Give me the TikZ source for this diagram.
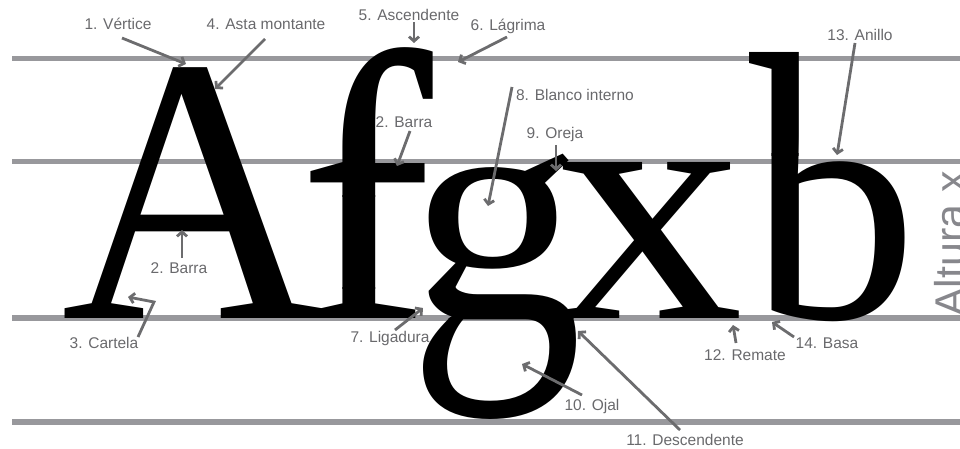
\documentclass[tikz,border=0pt]{standalone}
\usepackage{fontspec}
\setmainfont{Liberation Sans}
\newfontfamily\bigserif{Liberation Serif}
\usetikzlibrary{arrows.meta}
\definecolor{guide}{RGB}{152,152,156}
\definecolor{labelgray}{RGB}{105,105,108}
\definecolor{arrowgray}{RGB}{108,108,110}
\definecolor{sidegray}{RGB}{135,135,140}
% #1 name, #2 x, #3 font size, #4 xscale, #5 glyph, #6 source low, #7 target low, #8 yscale
\newcommand{\letterpiece}[8]{%
  \node[glyph] (#1) at (#2,318) {\fontsize{#3}{#3}\bigserif\selectfont\raisebox{#7pt}{\scalebox{#4}[#8]{\raisebox{-#6pt}{#5}}}};}
\begin{document}
\begin{tikzpicture}[x=1pt,y=-1pt,
  guideline/.style={draw=guide,line width=5.5pt},
  lbl/.style={text=labelgray,font=\fontsize{15.5}{16}\selectfont,inner sep=0pt},
  pointer/.style={draw=arrowgray,line width=2.8pt,line join=miter,-{Straight Barb[length=4.5pt,width=10pt]}},
  glyph/.style={inner sep=0pt,anchor=base west,text=black}]
\useasboundingbox (0,0) rectangle (960,449);
% guide lines
\coordinate (g1a) at (12,58.5);  \coordinate (g1b) at (960,58.5);
\coordinate (g2a) at (12,161.5); \coordinate (g2b) at (960,161.5);
\coordinate (g3a) at (12,318);   \coordinate (g3b) at (960,318);
\coordinate (g4a) at (12,422);   \coordinate (g4b) at (960,422);
\draw[guideline] (g1a) -- (g1b);
\draw[guideline] (g2a) -- (g2b);
\draw[guideline] (g3a) -- (g3b);
\draw[guideline] (g4a) -- (g4b);
% letter A
\node[glyph] (lA) at (61.5,318) {\fontsize{380}{380}\bigserif\selectfont\scalebox{0.96}[1]{A}};
% letter f in three pieces
\begin{scope}\clip (285,287.4) rectangle (480,340);
  \letterpiece{lf1}{298}{385}{1.05}{f}{0}{0}{1}\end{scope}
\begin{scope}\clip (285,195.4) rectangle (480,288.6);
  \letterpiece{lf2}{298}{385}{1.05}{f}{30}{30}{0.767}\end{scope}
\begin{scope}\clip (285,0) rectangle (480,196.6);
  \letterpiece{lf3}{298}{385}{1.05}{f}{150}{122}{1.228}\end{scope}
% letter g in two pieces
\begin{scope}\clip (390,0) rectangle (610,318.6);
  \letterpiece{lg1}{408}{360}{0.97}{g}{0}{0}{0.89}\end{scope}
\begin{scope}\clip (390,317.4) rectangle (610,449);
  \letterpiece{lg2}{408}{360}{0.97}{g}{0}{0}{1.3}\end{scope}
% letter x
\node[glyph] (lx) at (553.5,318) {\fontsize{340}{340}\bigserif\selectfont\scalebox{1.12}[1]{x}};
% letter b in two pieces
\begin{scope}\clip (730,154) rectangle (920,345);
  \letterpiece{lb1}{749}{387}{0.87}{b}{0}{0}{0.86}\end{scope}
\begin{scope}\clip (730,0) rectangle (920,155.2);
  \letterpiece{lb2}{749}{387}{0.87}{b}{190}{163.4}{1.30}\end{scope}
% side label
\node[rotate=90,anchor=base west,inner sep=0pt,text=sidegray,font=\fontsize{43}{43}\selectfont] (alt) at (965,317) {Altura x};
% labels
\node[lbl] (t1) at (118,24) {1. Vértice};
\node[lbl] (t4) at (266,24) {4. Asta montante};
\node[lbl] (t5) at (409,15) {5. Ascendente};
\node[lbl] (t6) at (508,26) {6. Lágrima};
\node[lbl] (t13) at (860,35) {13. Anillo};
\node[lbl] (t8) at (575,95) {8. Blanco interno};
\node[lbl] (t2f) at (404,122) {2. Barra};
\node[lbl] (t9) at (555,134) {9. Oreja};
\node[lbl] (t2a) at (179,268) {2. Barra};
\node[lbl] (t3) at (104,343) {3. Cartela};
\node[lbl] (t7) at (390,338) {7. Ligadura};
\node[lbl] (t10) at (592,406) {10. Ojal};
\node[lbl] (t11) at (685,440) {11. Descendente};
\node[lbl] (t12) at (745,355) {12. Remate};
\node[lbl] (t14) at (827,343) {14. Basa};
% arrow ends
\coordinate (a1) at (122,38);  \coordinate (b1) at (186,64);
\coordinate (a4) at (265,39);  \coordinate (b4) at (215,89);
\coordinate (a5) at (414,22);  \coordinate (b5) at (414,43);
\coordinate (a6) at (507,37);  \coordinate (b6) at (458,62);
\coordinate (a13) at (855,43); \coordinate (b13) at (837,155);
\coordinate (a8) at (512,87);  \coordinate (b8) at (488,206);
\coordinate (a2f) at (410,131); \coordinate (b2f) at (397,166);
\coordinate (a9) at (556,145); \coordinate (b9) at (556,171);
\coordinate (a2a) at (182,258); \coordinate (b2a) at (182,230);
\coordinate (a3) at (138,337); \coordinate (m3) at (154,302); \coordinate (b3) at (128,297);
\coordinate (a7) at (395,330); \coordinate (b7) at (423,308);
\coordinate (a10) at (582,395); \coordinate (b10) at (522,364);
\coordinate (a11) at (680,430); \coordinate (b11) at (578,331);
\coordinate (a12) at (736,343); \coordinate (b12) at (733,325);
\coordinate (a14) at (794,337); \coordinate (b14) at (772,322);
\draw[pointer] (a1) -- (b1);
\draw[pointer] (a4) -- (b4);
\draw[pointer] (a5) -- (b5);
\draw[pointer] (a6) -- (b6);
\draw[pointer] (a13) -- (b13);
\draw[pointer] (a8) -- (b8);
\draw[pointer] (a2f) -- (b2f);
\draw[pointer] (a9) -- (b9);
\draw[pointer] (a2a) -- (b2a);
\draw[pointer] (a3) -- (m3) -- (b3);
\draw[pointer] (a7) -- (b7);
\draw[pointer] (a10) -- (b10);
\draw[pointer] (a11) -- (b11);
\draw[pointer] (a12) -- (b12);
\draw[pointer] (a14) -- (b14);
\end{tikzpicture}
\end{document}
